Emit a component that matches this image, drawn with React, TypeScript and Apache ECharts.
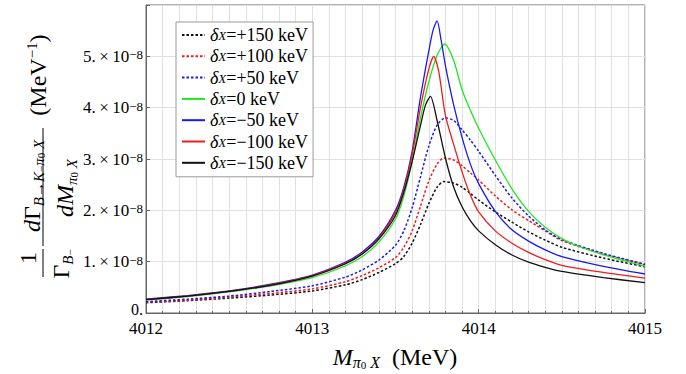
import React, { useEffect, useRef } from 'react';
import * as echarts from 'echarts';

const FONT = "'Liberation Serif', 'Times New Roman', Times, serif";

// x axis (MeV) and y axis (units of 1e-8 MeV^-1)
const xTicks = [4012, 4013, 4014, 4015];
const yTicks = [0, 1, 2, 3, 4, 5];

const seriesNames = ['+150', '+100', '+50', '0', '−50', '−100', '−150'];

// delta_X = +150 keV (black dotted)
const p150 = [
  [4012, 0.2], [4012.25, 0.24], [4012.5, 0.29], [4012.75, 0.35], [4013, 0.43], [4013.2, 0.55],
  [4013.3, 0.65], [4013.4, 0.79], [4013.5, 0.96], [4013.55, 1.1], [4013.6, 1.36], [4013.65, 1.72],
  [4013.7, 2.13], [4013.75, 2.45], [4013.79, 2.56], [4013.85, 2.53], [4013.9, 2.45], [4013.95, 2.33],
  [4014, 2.2], [4014.1, 1.97], [4014.2, 1.77], [4014.3, 1.58], [4014.4, 1.42], [4014.5, 1.28],
  [4014.75, 1.07], [4015, 0.9],
];
// +100 keV (red dotted)
const p100 = [
  [4012, 0.21], [4012.25, 0.25], [4012.5, 0.31], [4012.75, 0.38], [4013, 0.47], [4013.2, 0.61],
  [4013.3, 0.73], [4013.4, 0.88], [4013.5, 1.08], [4013.55, 1.28], [4013.6, 1.6], [4013.65, 2.08],
  [4013.7, 2.57], [4013.75, 2.9], [4013.79, 3.02], [4013.85, 2.98], [4013.9, 2.87], [4013.95, 2.73],
  [4014, 2.59], [4014.1, 2.28], [4014.2, 2.01], [4014.3, 1.8], [4014.4, 1.6], [4014.5, 1.41],
  [4014.75, 1.15], [4015, 0.94],
];
// +50 keV (blue dotted)
const p50 = [
  [4012, 0.22], [4012.25, 0.27], [4012.5, 0.33], [4012.75, 0.42], [4013, 0.53], [4013.2, 0.7],
  [4013.3, 0.84], [4013.4, 1.03], [4013.5, 1.32], [4013.55, 1.6], [4013.6, 2.05], [4013.65, 2.65],
  [4013.7, 3.25], [4013.75, 3.66], [4013.8, 3.8], [4013.85, 3.75], [4013.9, 3.57], [4013.95, 3.37],
  [4014, 3.15], [4014.1, 2.68], [4014.2, 2.24], [4014.3, 1.89], [4014.4, 1.62], [4014.5, 1.43],
  [4014.75, 1.16], [4015, 0.95],
];
// 0 keV (green)
const z0 = [
  [4012, 0.25], [4012.25, 0.32], [4012.5, 0.41], [4012.75, 0.53], [4013, 0.69], [4013.2, 0.92],
  [4013.3, 1.1], [4013.4, 1.38], [4013.5, 1.83], [4013.55, 2.28], [4013.6, 2.95], [4013.65, 3.8],
  [4013.7, 4.5], [4013.75, 5.02], [4013.795, 5.24], [4013.85, 4.92], [4013.9, 4.35], [4013.95, 3.95],
  [4014, 3.6], [4014.1, 2.98], [4014.2, 2.42], [4014.3, 1.98], [4014.4, 1.67], [4014.5, 1.45],
  [4014.6, 1.3], [4014.75, 1.13], [4015, 0.91],
];
// -50 keV (blue solid)
const m50 = [
  [4012, 0.27], [4012.25, 0.34], [4012.5, 0.43], [4012.75, 0.56], [4013, 0.74], [4013.2, 0.99],
  [4013.3, 1.19], [4013.4, 1.49], [4013.5, 2.0], [4013.55, 2.45], [4013.6, 3.15], [4013.65, 4.2],
  [4013.7, 5.1], [4013.725, 5.5], [4013.75, 5.69], [4013.775, 5.3], [4013.8, 4.82], [4013.85, 4.05],
  [4013.9, 3.42], [4013.95, 2.9], [4014, 2.52], [4014.1, 1.98], [4014.2, 1.62], [4014.3, 1.4],
  [4014.4, 1.23], [4014.5, 1.1], [4014.75, 0.91], [4015, 0.76],
];
// -100 keV (red solid)
const m100 = [
  [4012, 0.26], [4012.25, 0.33], [4012.5, 0.42], [4012.75, 0.55], [4013, 0.73], [4013.2, 0.97],
  [4013.3, 1.16], [4013.4, 1.46], [4013.5, 1.95], [4013.55, 2.4], [4013.6, 3.08], [4013.65, 4.0],
  [4013.7, 4.75], [4013.73, 5.0], [4013.76, 4.7], [4013.8, 3.85], [4013.85, 3.28], [4013.9, 2.75],
  [4013.95, 2.3], [4014, 1.97], [4014.1, 1.6], [4014.2, 1.36], [4014.3, 1.18], [4014.4, 1.04],
  [4014.5, 0.93], [4014.75, 0.79], [4015, 0.68],
];
// -150 keV (black solid)
const m150 = [
  [4012, 0.26], [4012.25, 0.33], [4012.5, 0.42], [4012.75, 0.54], [4013, 0.72], [4013.2, 0.96],
  [4013.3, 1.15], [4013.4, 1.44], [4013.5, 1.9], [4013.55, 2.35], [4013.6, 2.95], [4013.65, 3.65],
  [4013.68, 4.05], [4013.71, 4.22], [4013.75, 3.75], [4013.8, 3.02], [4013.85, 2.45], [4013.9, 2.07],
  [4013.95, 1.8], [4014, 1.6], [4014.1, 1.33], [4014.2, 1.13], [4014.3, 0.99], [4014.4, 0.89],
  [4014.5, 0.81], [4014.75, 0.69], [4015, 0.59],
];

const BLACK = '#111111';
const RED = '#ee1c1c';
const BLUE = '#1a1aee';
const GREEN = '#22e622';

const seriesDefs = [
  { name: seriesNames[0], data: p150, color: BLACK, dotted: true },
  { name: seriesNames[1], data: p100, color: RED, dotted: true },
  { name: seriesNames[2], data: p50, color: BLUE, dotted: true },
  { name: seriesNames[3], data: z0, color: GREEN, dotted: false },
  { name: seriesNames[4], data: m50, color: BLUE, dotted: false },
  { name: seriesNames[5], data: m100, color: RED, dotted: false },
  { name: seriesNames[6], data: m150, color: BLACK, dotted: false },
];

const GRID_COLOR = '#e0e0e0';
const FRAME_COLOR = '#666666';

function yTitlePieces() {
  const rich = {
    n: { fontFamily: FONT, fontSize: 24, lineHeight: 28 },
    i: { fontFamily: FONT, fontSize: 24, fontStyle: 'italic', lineHeight: 28 },
    s: { fontFamily: FONT, fontSize: 15, fontStyle: 'italic', lineHeight: 12, verticalAlign: 'bottom' },
    a: { fontFamily: FONT, fontSize: 15, lineHeight: 12, verticalAlign: 'bottom' },
    ss: { fontFamily: FONT, fontSize: 11, lineHeight: 22, verticalAlign: 'bottom' },
    sp: { fontFamily: FONT, fontSize: 15, lineHeight: 12, verticalAlign: 'top' },
  };
  const t = (x: number, y: number, text: string) => ({
    type: 'text',
    x,
    y,
    rotation: Math.PI / 2,
    style: { text, rich, fill: '#000', align: 'center', verticalAlign: 'middle', fontFamily: FONT, fontSize: 24 },
  });
  return [
    t(28, 258, '{n|1}'),
    { type: 'line', shape: { x1: 43, y1: 249, x2: 43, y2: 277 }, style: { stroke: '#000', lineWidth: 1 } },
    t(61, 264, '{n|Γ}{s|B}{ss|−}'),
    t(32, 186, '{i|d}{n|Γ}{s|B}{a|→}{s|K}{ss|−}{s|π}{ss|0}{s| X}'),
    { type: 'line', shape: { x1: 43, y1: 128, x2: 43, y2: 246 }, style: { stroke: '#000', lineWidth: 1 } },
    t(65, 188, '{i|dM}{s|π}{ss|0}{s| X}'),
    t(38, 75, '{n|(MeV}{sp|−1}{n|)}'),
  ];
}

function xTitle() {
  const rich = {
    i: { fontFamily: FONT, fontSize: 24, fontStyle: 'italic', lineHeight: 26 },
    r: { fontFamily: FONT, fontSize: 24, lineHeight: 26 },
    s: { fontFamily: FONT, fontSize: 16, fontStyle: 'italic', lineHeight: 12, verticalAlign: 'bottom' },
    ss: { fontFamily: FONT, fontSize: 11, lineHeight: 24, verticalAlign: 'bottom' },
  };
  return {
    type: 'text',
    x: 395,
    y: 357,
    style: {
      text: '{i|M}{s|π}{ss|0}{s| X}{r|  (MeV)}',
      rich,
      fill: '#000',
      align: 'center',
      verticalAlign: 'middle',
      fontFamily: FONT,
      fontSize: 24,
    },
  };
}

export default function App() {
  const ref = useRef<HTMLDivElement>(null);
  useEffect(() => {
    if (!ref.current) return;
    const chart = echarts.init(ref.current, null, { renderer: 'svg' });
    const option: any = {
      animation: false,
      backgroundColor: '#ffffff',
      grid: {
        left: 146,
        right: 41,
        top: 5,
        bottom: 61,
        show: true,
        borderColor: FRAME_COLOR,
        borderWidth: 1,
        backgroundColor: 'transparent',
      },
      xAxis: {
        type: 'value',
        min: xTicks[0],
        max: xTicks[xTicks.length - 1],
        interval: 1,
        axisLine: { show: true, onZero: false, lineStyle: { color: FRAME_COLOR, width: 1 } },
        axisTick: { show: true, inside: true, length: 4, lineStyle: { color: FRAME_COLOR } },
        minorTick: { show: true, splitNumber: 10, length: 2, lineStyle: { color: FRAME_COLOR } },
        splitLine: { show: true, lineStyle: { color: GRID_COLOR, width: 1 } },
        minorSplitLine: { show: true, lineStyle: { color: GRID_COLOR, width: 1 } },
        axisLabel: {
          margin: 8,
          showMinLabel: true,
          showMaxLabel: true,
          fontFamily: FONT,
          fontSize: 17,
          lineHeight: 14,
          color: '#000',
          formatter: (v: number) => String(Math.round(v)),
        },
      },
      yAxis: {
        type: 'value',
        min: 0,
        max: 6,
        interval: 1,
        axisLine: { show: true, onZero: false, lineStyle: { color: FRAME_COLOR, width: 1 } },
        axisTick: { show: true, inside: true, length: 4, lineStyle: { color: FRAME_COLOR } },
        splitLine: { show: true, lineStyle: { color: GRID_COLOR, width: 1 } },
        axisLabel: {
          margin: 3,
          color: '#000',
          fontFamily: FONT,
          fontSize: 17,
          formatter: (v: number) => {
            const n = Math.round(v);
            if (yTicks.indexOf(n) < 0) return '';
            if (n === 0) return '{z|0.}';
            return `{a|${n}.\u2009×\u200910}{b|−8}`;
          },
          rich: {
            z: { fontFamily: FONT, fontSize: 16, lineHeight: 9, color: '#000', padding: [0, 0, 8, 0] },
            a: { fontFamily: FONT, fontSize: 17, lineHeight: 16, color: '#000' },
            b: { fontFamily: FONT, fontSize: 13, lineHeight: 10, verticalAlign: 'top', color: '#000' },
          },
        },
      },
      legend: {
        orient: 'vertical',
        left: 176,
        top: 22,
        data: seriesNames,
        itemWidth: 23,
        itemHeight: 14,
        itemGap: 3.3,
        padding: [4, 5, 5, 5],
        backgroundColor: '#ffffff',
        borderColor: '#9a9a9a',
        borderWidth: 1,
        selectedMode: false,
        itemStyle: { opacity: 0 },
        formatter: (name: string) => `{d|δ}{x|X}{t|=${name} keV}`,
        textStyle: {
          fontFamily: FONT,
          fontSize: 17,
          color: '#000',
          rich: {
            d: { fontFamily: FONT, fontSize: 18, fontStyle: 'italic', lineHeight: 14 },
            x: { fontFamily: FONT, fontSize: 13, fontStyle: 'italic', lineHeight: 8, verticalAlign: 'bottom' },
            t: { fontFamily: FONT, fontSize: 18, lineHeight: 14 },
          },
        },
      },
      graphic: [...yTitlePieces(), xTitle()],
      series: seriesDefs.map((s) => ({
        name: s.name,
        type: 'line',
        data: s.data,
        smooth: 0.25,
        symbol: 'none',
        showSymbol: false,
        color: s.color,
        lineStyle: {
          color: s.color,
          width: s.dotted ? 1.5 : 1.3,
          type: s.dotted ? [2.5, 2] : 'solid',
        },
        z: s.dotted ? 2 : 3,
      })),
    };
    chart.setOption(option);
    return () => chart.dispose();
  }, []);
  return <div ref={ref} style={{ position: 'fixed', left: 0, top: 0, width: 686, height: 374 }} />;
}
